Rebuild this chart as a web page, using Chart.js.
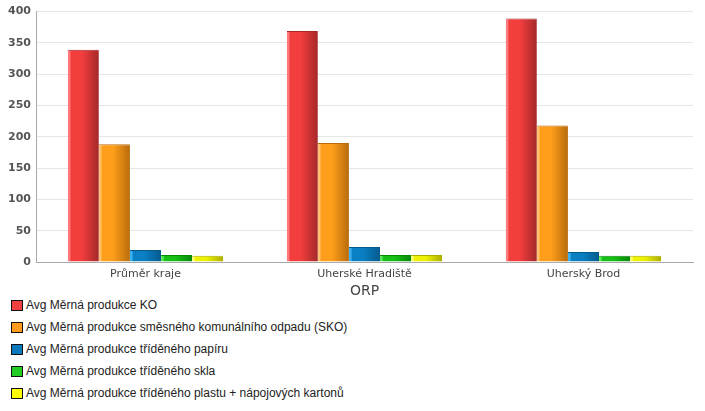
<!DOCTYPE html>
<html>
<head>
<meta charset="utf-8">
<script src="https://cdn.jsdelivr.net/npm/chart.js@4"></script>
<style>
    body { margin: 0; background: #fff; }
    #wrap { width: 705px; height: 300px; position: relative; }
    #legend { margin: -6px 0 0 0; padding: 0 0 0 11px; list-style: none; font: 12px "Liberation Sans", Arial, sans-serif; color: #222; }
    #legend li { height: 22px; line-height: 22px; display: flex; align-items: center; }
    #legend span.box { width: 10px; height: 9px; border: 1px solid #111; margin-right: 3px; display: inline-block; }
</style>
</head>
<body>
<div id="wrap"><canvas id="chart"></canvas></div>
<ul id="legend"></ul>
<script>
const categories = ['Průměr kraje', 'Uherské Hradiště', 'Uherský Brod'];
const seriesNames = [
    'Avg Měrná produkce KO',
    'Avg Měrná produkce směsného komunálního odpadu (SKO)',
    'Avg Měrná produkce tříděného papíru',
    'Avg Měrná produkce tříděného skla',
    'Avg Měrná produkce tříděného plastu + nápojových kartonů'
];
const koValues = [339, 369, 389];
const skoValues = [188, 190, 218];
const paperValues = [19, 24, 16];
const glassValues = [11, 11, 10];
const plasticValues = [10, 11, 10];
const yTicks = [0, 50, 100, 150, 200, 250, 300, 350, 400];

// light, mid, dark tones for each series
const tones = [
    ['#ff7a7a', '#f33e3e', '#a52828'],
    ['#ffc070', '#ff9e1a', '#b86c0c'],
    ['#3ab0f0', '#0a7fc4', '#045a8c'],
    ['#55e855', '#16c016', '#08880a'],
    ['#ffff60', '#eef200', '#adad00']
];
const legendColors = ['#f04040', '#ff9a1a', '#0a78bc', '#22cc22', '#ffff00'];

const allValues = [koValues, skoValues, paperValues, glassValues, plasticValues];

const datasets = allValues.map((vals, i) => ({
    label: seriesNames[i],
    data: vals,
    // scriptable so every bar gets its own options object
    backgroundColor: () => tones[i][1],
    borderColor: tones[i][2],
    borderWidth: { top: 1, left: 0, right: 0, bottom: 0 },
    borderSkipped: false,
    categoryPercentage: 0.71,
    barPercentage: 1
}));

// horizontal shading on each bar for the bevelled look
const shadePlugin = {
    id: 'shade',
    beforeDatasetsDraw(chart) {
        const ctx = chart.ctx;
        chart.data.datasets.forEach((ds, i) => {
            chart.getDatasetMeta(i).data.forEach(bar => {
                const l = bar.x - bar.width / 2, r = bar.x + bar.width / 2;
                const g = ctx.createLinearGradient(l, 0, r, 0);
                g.addColorStop(0, tones[i][0]);
                g.addColorStop(0.07, tones[i][0]);
                g.addColorStop(0.1, tones[i][1]);
                g.addColorStop(0.45, tones[i][1]);
                g.addColorStop(1, tones[i][2]);
                bar.options.backgroundColor = g;
            });
        });
    }
};

new Chart('chart', {
    type: 'bar',
    data: { labels: categories, datasets },
    plugins: [shadePlugin],
    options: {
        responsive: true,
        maintainAspectRatio: false,
        animation: false,
        layout: { padding: { top: 11, right: 12, left: 0, bottom: 0 } },
        plugins: {
            legend: { display: false },
            tooltip: { enabled: false }
        },
        scales: {
            x: {
                grid: { display: false, drawTicks: false },
                border: { color: '#aaa' },
                ticks: { color: '#444', padding: 6, font: { family: 'DejaVu Sans', size: 11 } },
                title: { display: true, text: 'ORP', color: '#444', padding: { top: -4, bottom: 0 }, font: { family: 'DejaVu Sans', size: 14 } }
            },
            y: {
                min: 0,
                max: 400,
                afterBuildTicks: s => { s.ticks = yTicks.map(v => ({ value: v })); },
                afterFit: s => { s.width = 36; },
                grid: { color: '#e6e6e6', drawTicks: false },
                border: { color: '#aaa' },
                ticks: { color: '#555', padding: 5, font: { family: 'DejaVu Sans', size: 11, weight: 'bold' } }
            }
        }
    }
});

const legend = document.getElementById('legend');
seriesNames.forEach((name, i) => {
    const li = document.createElement('li');
    li.innerHTML = `<span class="box" style="background:${legendColors[i]}"></span>${name}`;
    legend.appendChild(li);
});
</script>
</body>
</html>
